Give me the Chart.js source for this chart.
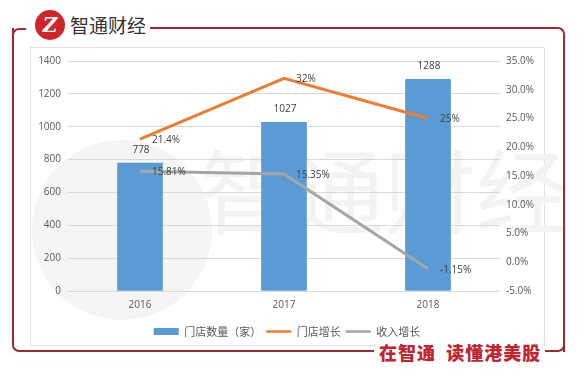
<!DOCTYPE html>
<html>
<head>
<meta charset="utf-8">
<script src="https://cdn.jsdelivr.net/npm/chart.js@4/dist/chart.umd.min.js"></script>
<style>
  body { margin: 0; background: #fff; }
  #wrap { position: relative; width: 579px; height: 375px; overflow: hidden; background: #fff; }
  .red { position: absolute; border-color: #a3282f; border-style: solid; border-width: 0; }
  #panel { position: absolute; left: 30px; top: 47px; width: 513px; height: 297px; border: 1px solid #e2e2e2; }
  #logo { position: absolute; left: 35px; top: 10px; width: 30px; height: 30px; border-radius: 50%; background: #d0242b;
          color: #fff; font: italic bold 20px "DejaVu Serif", serif; text-align: center; line-height: 30px; }
  #brand { position: absolute; left: 70px; top: 11px; font: 19px "Noto Sans CJK SC"; color: #333; background: #fff; padding-right: 3px; }
  #slogan { position: absolute; left: 376px; top: 340px; font: 900 18px "Noto Sans CJK SC"; color: #c0262d;
            letter-spacing: 1px; background: #fff; padding: 0 3px; line-height: 24px; }
  #wm-circle { position: absolute; left: 32px; top: 140px; width: 180px; height: 180px; border-radius: 50%; background: #f5f5f5; }
  #wm-text { position: absolute; left: 200px; top: 120px; font: 92px "Noto Sans CJK SC"; color: #f3f3f3; white-space: nowrap; }
  canvas { position: absolute; left: 0; top: 0; }
</style>
</head>
<body>
<div id="wrap">
  <div id="panel"></div>
  <div id="wm-circle"></div>
  <div id="wm-text">智通财经</div>
  <div class="red" style="left:12px; top:28px; width:360px; height:322px; border-left-width:2px; border-bottom-width:2px; border-bottom-left-radius:7px;"></div>
  <div class="red" style="left:12px; top:28px; width:12px; height:10px; border-left-width:2px; border-top-width:2px; border-top-left-radius:7px;"></div>
  <div class="red" style="left:150px; top:27px; width:413px; height:323px; border-top-width:2px; border-right-width:2px; border-top-right-radius:7px;"></div>
  <div class="red" style="left:545px; top:338px; width:18px; height:12px; border-right-width:2px; border-bottom-width:2px; border-bottom-right-radius:7px;"></div>
  <div id="logo">Z</div>
  <div id="brand">智通财经</div>
  <div id="slogan">在智通&nbsp;&nbsp;读懂港美股</div>
  <canvas id="chart" width="579" height="375"></canvas>
</div>
<script>
// chart values
var years = ['2016', '2017', '2018'];
var storeCount = [778, 1027, 1288];
var storeGrowth = [21.4, 32, 25];
var revenueGrowth = [15.81, 15.35, -1.15];

var countTicks = { min: 0, max: 1400, step: 200 };
var pctTicks = { min: -5, max: 35, step: 5 };

var labelNames = ['门店数量（家）', '门店增长', '收入增长'];

var tickFont = { family: '"Open Sans"', size: 10 };
var textColor = '#595959';

// value labels drawn next to bars and points
var valueLabels = {
    id: 'valueLabels',
    afterDatasetsDraw: function (chart) {
        var ctx = chart.ctx;
        ctx.save();
        ctx.font = '10px "Open Sans"';
        ctx.fillStyle = '#404040';
        ctx.textBaseline = 'middle';
        chart.data.datasets.forEach(function (ds, i) {
            var meta = chart.getDatasetMeta(i);
            meta.data.forEach(function (el, j) {
                var v = ds.data[j];
                if (ds.type === 'bar') {
                    ctx.textAlign = 'center';
                    ctx.fillText(String(v), el.x + 1, el.y - 13);
                } else {
                    ctx.textAlign = 'left';
                    ctx.fillText(v + '%', el.x + 12, el.y + 1);
                }
            });
        });
        ctx.restore();
    }
};

var ctx = document.getElementById('chart');
var chart = new Chart(ctx, {
    data: {
        labels: years,
        datasets: [{
            type: 'bar',
            label: labelNames[0],
            data: storeCount,
            backgroundColor: '#5b9bd5',
            borderWidth: 0,
            barThickness: 45,
            yAxisID: 'y',
            order: 1
        }, {
            type: 'line',
            label: labelNames[1],
            data: storeGrowth,
            borderColor: '#ed7d31',
            backgroundColor: '#ed7d31',
            borderWidth: 3,
            pointRadius: 0,
            tension: 0,
            yAxisID: 'y1',
            order: 0
        }, {
            type: 'line',
            label: labelNames[2],
            data: revenueGrowth,
            borderColor: '#a5a5a5',
            backgroundColor: '#a5a5a5',
            borderWidth: 3,
            pointRadius: 0,
            tension: 0,
            yAxisID: 'y1',
            order: 0
        }]
    },
    options: {
        responsive: false,
        animation: false,
        layout: {
            padding: { left: 30, right: 35, top: 61, bottom: 28 }
        },
        plugins: {
            tooltip: { enabled: false },
            legend: {
                position: 'bottom',
                labels: {
                    usePointStyle: true,
                    pointStyleWidth: 25,
                    boxHeight: 7,
                    padding: 5,
                    color: textColor,
                    font: { family: '"Noto Sans CJK SC"', size: 11 },
                    generateLabels: function (chart) {
                        var items = Chart.defaults.plugins.legend.labels.generateLabels(chart);
                        items.sort(function (a, b) { return a.datasetIndex - b.datasetIndex; });
                        items.forEach(function (it) {
                            var ds = chart.data.datasets[it.datasetIndex];
                            if (ds.type === 'bar') {
                                it.pointStyle = 'rect';
                                it.lineWidth = 0;
                            } else {
                                it.pointStyle = 'line';
                                it.lineWidth = 2.5;
                                it.strokeStyle = ds.borderColor;
                            }
                        });
                        return items;
                    }
                }
            }
        },
        scales: {
            x: {
                grid: { display: false, drawTicks: false },
                border: { display: false },
                ticks: { color: textColor, font: tickFont, padding: 8 },
                afterFit: function (scale) { scale.height = 30; }
            },
            y: {
                position: 'left',
                min: countTicks.min,
                max: countTicks.max,
                grid: { color: '#d9d9d9', drawTicks: false },
                border: { display: false },
                ticks: {
                    stepSize: countTicks.step,
                    color: textColor,
                    font: tickFont,
                    padding: 7,
                    callback: function (v) { return String(v); }
                },
                afterFit: function (scale) { scale.width = 38; }
            },
            y1: {
                position: 'right',
                min: pctTicks.min,
                max: pctTicks.max,
                grid: { display: false, drawTicks: false },
                border: { display: false },
                ticks: {
                    stepSize: pctTicks.step,
                    color: textColor,
                    font: tickFont,
                    padding: 6,
                    callback: function (v) { return v.toFixed(1) + '%'; }
                },
                afterFit: function (scale) { scale.width = 44; }
            }
        }
    },
    plugins: [valueLabels]
});
</script>
</body>
</html>
